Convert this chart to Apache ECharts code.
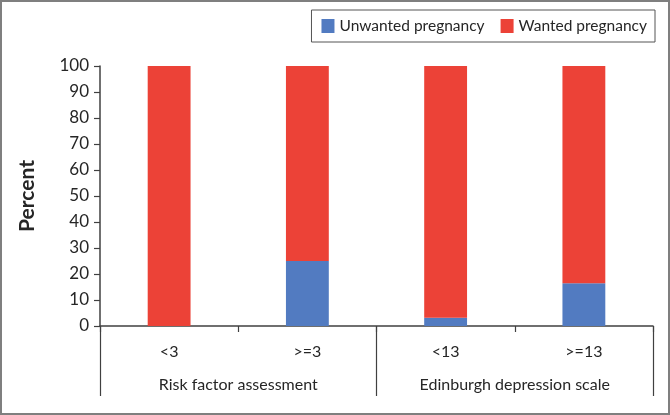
<!DOCTYPE html>
<html>
<head>
<meta charset="utf-8">
<script src="https://cdn.jsdelivr.net/npm/echarts@6/dist/echarts.min.js"></script>
<style>
  html, body { margin: 0; padding: 0; background: #fff; }
  #main { width: 670px; height: 415px; }
</style>
</head>
<body>
<div id="main"></div>
<script>
var categories = ['<3', '>=3', '<13', '>=13'];
var groups = ['Risk factor assessment', 'Edinburgh depression scale'];
var unwanted = [0, 25, 3.2, 16.4];
var wanted = [100, 75, 96.8, 83.6];

var font = 'Lato, "Open Sans", sans-serif';
var textColor = '#262626';
var lineColor = '#404040';

var myChart = echarts.init(document.getElementById('main'));

var option = {
    animation: false,
    textStyle: { fontFamily: font, color: textColor },
    graphic: [{
        type: 'rect',
        shape: { x: 1, y: 1, width: 668, height: 413 },
        style: { fill: 'none', stroke: '#7f7f7f', lineWidth: 2 }
    }],
    legend: {
        right: 15,
        top: 10,
        itemWidth: 13,
        itemHeight: 14,
        itemGap: 16,
        padding: [8, 8, 8, 10],
        borderColor: '#555',
        borderWidth: 1,
        icon: 'rect',
        textStyle: { fontFamily: font, fontSize: 15.5, color: textColor },
        data: ['Unwanted pregnancy', 'Wanted pregnancy']
    },
    grid: {
        left: 100,
        right: 17,
        top: 66,
        bottom: 89
    },
    xAxis: [{
        type: 'category',
        data: categories,
        position: 'bottom',
        axisLine: { show: true, lineStyle: { color: lineColor, width: 1.5 } },
        axisTick: { show: true, length: 6, lineStyle: { color: lineColor, width: 1.2 } },
        axisLabel: { margin: 18, fontSize: 16, color: textColor, fontFamily: font }
    }, {
        type: 'category',
        data: groups,
        position: 'bottom',
        axisLine: { show: false },
        axisTick: { show: true, length: 70, lineStyle: { color: lineColor, width: 1.2 } },
        axisLabel: { margin: 51, fontSize: 16, color: textColor, fontFamily: font }
    }],
    yAxis: {
        type: 'value',
        min: 0,
        max: 100,
        interval: 10,
        name: 'Percent',
        nameLocation: 'middle',
        nameGap: 62,
        nameTextStyle: { fontSize: 21, fontWeight: 'bold', color: textColor, fontFamily: font },
        axisLine: { show: true, lineStyle: { color: lineColor, width: 1.5 } },
        axisTick: { show: true, length: 6, lineStyle: { color: lineColor, width: 1.2 } },
        axisLabel: { margin: 11, fontSize: 17, color: textColor, fontFamily: font },
        splitLine: { show: false }
    },
    series: [{
        name: 'Unwanted pregnancy',
        type: 'bar',
        stack: 'total',
        xAxisIndex: 0,
        barWidth: '31%',
        itemStyle: { color: '#527bc1' },
        data: unwanted
    }, {
        name: 'Wanted pregnancy',
        type: 'bar',
        stack: 'total',
        xAxisIndex: 0,
        barWidth: '31%',
        itemStyle: { color: '#ec4237' },
        data: wanted
    }]
};

myChart.setOption(option);
</script>
</body>
</html>
